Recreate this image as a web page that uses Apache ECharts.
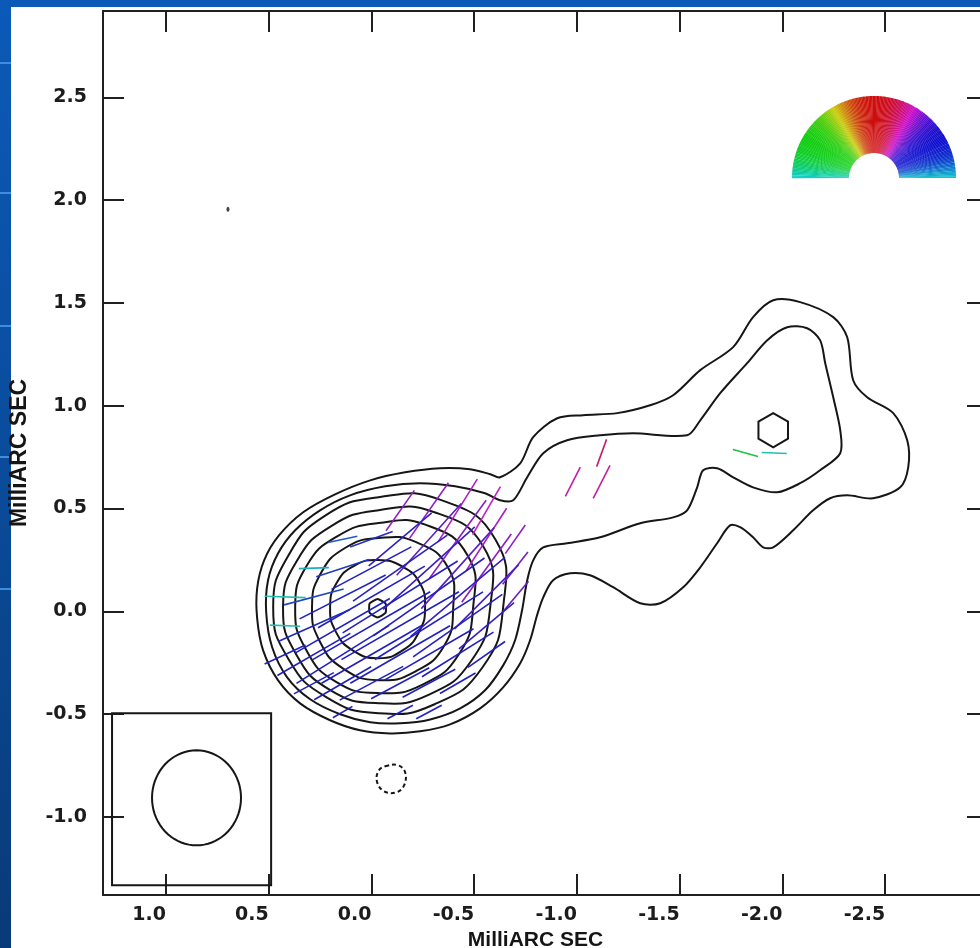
<!DOCTYPE html>
<html>
<head>
<meta charset="utf-8">
<script src="https://cdn.jsdelivr.net/npm/echarts@6/dist/echarts.min.js"></script>
<style>
html,body{margin:0;padding:0;width:980px;height:948px;overflow:hidden;}
body{position:relative;background:linear-gradient(180deg,#0b5ab8 0%,#0a4d9e 45%,#093a78 100%);}
#paper{position:absolute;left:11px;top:7px;width:969px;height:941px;background:#ffffff;}
#chart{position:absolute;left:0;top:0;width:980px;height:948px;}
.streak{position:absolute;left:0;width:11px;height:2px;background:#3d8ee2;}
</style>
</head>
<body>
<div class="streak" style="top:62px"></div>
<div class="streak" style="top:192px"></div>
<div class="streak" style="top:325px"></div>
<div class="streak" style="top:456px"></div>
<div class="streak" style="top:588px"></div>
<div id="paper"></div>
<div id="chart"></div>
<script>
// ---------------- axes ----------------
const xTickValues = [1.0, 0.5, 0.0, -0.5, -1.0, -1.5, -2.0, -2.5];
const yTickValues = [-1.0, -0.5, 0.0, 0.5, 1.0, 1.5, 2.0, 2.5];
const xRange = [-3.0, 1.306];   // relative RA (mas), drawn inverted
const yRange = [-1.38, 2.92];   // relative Dec (mas)
const axisTitle = 'MilliARC SEC';

// ---------------- total intensity contours (mas) ----------------
// lowest level: encloses core and jet
const contourLevel1 = [
  [-0.626,0.652],[-0.724,0.720],[-0.787,0.847],[-0.904,0.939],[-1.030,0.954],[-1.196,0.964],
  [-1.356,1.002],[-1.468,1.051],[-1.600,1.173],[-1.760,1.285],[-1.857,1.431],[-1.955,1.513],
  [-2.086,1.504],[-2.247,1.431],[-2.315,1.333],[-2.344,1.124],[-2.412,1.041],[-2.539,0.964],
  [-2.607,0.832],[-2.612,0.701],[-2.573,0.603],[-2.441,0.550],[-2.315,0.564],[-2.232,0.550],
  [-2.149,0.491],[-2.052,0.394],[-1.955,0.311],[-1.906,0.311],[-1.857,0.360],[-1.794,0.409],
  [-1.745,0.418],[-1.682,0.331],[-1.600,0.214],[-1.517,0.117],[-1.405,0.039],[-1.308,0.039],
  [-1.176,0.117],[-1.064,0.175],[-0.967,0.185],[-0.884,0.151],[-0.836,0.068],[-0.806,-0.019],
  [-0.772,-0.141],[-0.724,-0.253],[-0.641,-0.370],[-0.529,-0.472],[-0.383,-0.550],[-0.237,-0.584],
  [-0.091,-0.594],[0.055,-0.579],[0.201,-0.530],[0.347,-0.448],[0.454,-0.336],[0.527,-0.190],
  [0.556,-0.034],[0.556,0.112],[0.522,0.248],[0.449,0.370],[0.332,0.482],[0.177,0.569],
  [0.006,0.637],[-0.164,0.676],[-0.334,0.696],[-0.480,0.691],[-0.578,0.667]
];
// second level: core and jet
const contourLevel2 = [
  [-0.626,0.540],[-0.690,0.540],[-0.758,0.652],[-0.836,0.769],[-0.952,0.832],[-1.113,0.856],
  [-1.273,0.866],[-1.536,0.856],[-1.600,0.929],[-1.697,1.061],[-1.828,1.207],[-1.926,1.319],
  [-2.023,1.382],[-2.120,1.377],[-2.183,1.319],[-2.208,1.207],[-2.247,1.041],[-2.281,0.881],
  [-2.281,0.769],[-2.183,0.686],[-2.086,0.623],[-1.974,0.579],[-1.857,0.603],[-1.760,0.652],
  [-1.682,0.696],[-1.614,0.686],[-1.585,0.603],[-1.536,0.491],[-1.468,0.457],[-1.308,0.428],
  [-1.113,0.360],[-0.952,0.331],[-0.836,0.311],[-0.787,0.248],[-0.758,0.151],[-0.733,0.005],
  [-0.699,-0.141],[-0.641,-0.263],[-0.553,-0.384],[-0.432,-0.472],[-0.286,-0.526],[-0.140,-0.545],
  [0.006,-0.540],[0.152,-0.501],[0.298,-0.428],[0.410,-0.321],[0.483,-0.175],[0.512,-0.005],
  [0.503,0.151],[0.454,0.282],[0.371,0.394],[0.250,0.491],[0.104,0.564],[-0.067,0.608],
  [-0.237,0.623],[-0.407,0.608],[-0.553,0.574]
];
// closed core rings: radius (mas) at position angles 0,30,...,330 deg (screen, from +RA-offset direction)
const ringAngles = [0, 30, 60, 90, 120, 150, 180, 210, 240, 270, 300, 330];
const coreCentre = [-0.035, 0.02];
const ringLevel3 = [0.606,0.657,0.603,0.535,0.516,0.506,0.513,0.506,0.506,0.516,0.545,0.584];
const ringLevel4 = [0.543,0.589,0.535,0.472,0.457,0.457,0.465,0.462,0.467,0.467,0.491,0.521];
const ringLevel5 = [0.460,0.501,0.462,0.409,0.399,0.404,0.406,0.409,0.418,0.418,0.433,0.453];
const ringLevel6 = [0.363,0.389,0.365,0.336,0.331,0.326,0.324,0.331,0.345,0.355,0.360,0.370];
const ringLevel7 = [0.226,0.232,0.229,0.229,0.234,0.236,0.236,0.240,0.245,0.248,0.240,0.230];
// peak contours (hexagonal)
const coreKnot = { centre: [-0.03, 0.015], radius: 0.045 };
const jetKnot = { centre: [-1.955, 0.881], radius: 0.083 };
// negative (dashed) contour
const negativeContour = [
  [-0.067,-0.754],[-0.130,-0.749],[-0.164,-0.783],[-0.159,-0.847],
  [-0.120,-0.881],[-0.062,-0.876],[-0.028,-0.832],[-0.033,-0.779]
];
// isolated spot
const isolatedSpot = [0.698, 1.956];
// restoring beam and its box
const beamCentre = [0.851, -0.9075];
const beamSemiAxes = [0.2165, 0.231];
const beamBox = [[1.262,-0.496],[0.488,-0.496],[0.488,-1.333],[1.262,-1.333]];

// ---------------- polarisation sticks ----------------
const vecX = [
  -0.14,-0.28,-0.42,-0.56,
  0.14,0.00,-0.14,-0.28,-0.42,-0.56,-0.70,
  0.28,0.14,0.00,-0.14,-0.28,-0.42,-0.56,-0.70,
  0.42,0.28,0.14,0.00,-0.14,-0.28,-0.42,-0.56,-0.70,
  0.42,0.28,0.14,0.00,-0.14,-0.28,-0.42,-0.56,
  0.42,0.28,0.14,0.00,-0.14,-0.28,-0.42,-0.56,
  0.28,0.14,0.00,-0.14,-0.28,-0.42,
  0.14,-0.14,-0.28,
  -0.98,-1.12,-1.12,-1.82,-1.96
];
const vecY = [
  0.49,0.49,0.49,0.49,
  0.35,0.35,0.35,0.35,0.35,0.35,0.35,
  0.21,0.21,0.21,0.21,0.21,0.21,0.21,0.21,
  0.07,0.07,0.07,0.07,0.07,0.07,0.07,0.07,0.07,
  -0.07,-0.07,-0.07,-0.07,-0.07,-0.07,-0.07,-0.07,
  -0.21,-0.21,-0.21,-0.21,-0.21,-0.21,-0.21,-0.21,
  -0.35,-0.35,-0.35,-0.35,-0.35,-0.35,
  -0.49,-0.49,-0.49,
  0.63,0.63,0.77,0.77,0.77
];
const vecEVPA = [
  -35,-35,-32,-30,
  -78,-70,-50,-42,-36,-33,-35,
  92,-72,-62,-55,-48,-42,-36,-38,
  88,-75,-63,-60,-58,-55,-50,-45,-40,
  88,-66,-60,-60,-60,-58,-55,-50,
  -65,-60,-58,-60,-60,-60,-58,-55,
  -62,-60,-62,-62,-62,-60,
  -60,-62,-62,
  -27,-27,-20,74,88
];
const vecLen = [
  0.24,0.33,0.36,0.27,
  0.146,0.22,0.40,0.47,0.47,0.36,0.17,
  0.146,0.27,0.44,0.56,0.60,0.53,0.41,0.20,
  0.20,0.30,0.47,0.60,0.66,0.66,0.60,0.44,0.20,
  0.146,0.38,0.53,0.66,0.66,0.62,0.53,0.35,
  0.22,0.41,0.53,0.56,0.56,0.50,0.41,0.22,
  0.22,0.32,0.35,0.32,0.29,0.20,
  0.11,0.14,0.14,
  0.160,0.180,0.141,0.127,0.122
];

// ---------------- helpers ----------------
// EVPA -> hue (180 deg ambiguity, so hue = 2*EVPA), with bands pulled toward the primaries
function evpaColor(evpa, sat, light) {
  const h0 = (((2 * evpa) % 360) + 360) % 360;
  const h = (h0 - 15 * Math.sin(3 * h0 * Math.PI / 180) + 360) % 360;
  return 'hsl(' + h.toFixed(1) + ',' + sat + '%,' + light + '%)';
}
function ringToPoints(centre, radii, angles) {
  return radii.map((r, i) => {
    const a = angles[i] * Math.PI / 180;
    return [centre[0] - r * Math.cos(a), centre[1] + r * Math.sin(a)];
  });
}
function hexagon(knot) {
  const out = [];
  for (let k = 0; k < 6; k++) {
    const a = (90 + 60 * k) * Math.PI / 180;
    out.push([knot.centre[0] - knot.radius * Math.cos(a), knot.centre[1] + knot.radius * Math.sin(a)]);
  }
  return out;
}
function ellipsePts(c, s) {
  const out = [];
  for (let k = 0; k < 72; k++) {
    const a = k * 5 * Math.PI / 180;
    out.push([c[0] - s[0] * Math.cos(a), c[1] + s[1] * Math.sin(a)]);
  }
  return out;
}

const contourSets = [
  { pts: contourLevel1, smooth: 0.3 },
  { pts: contourLevel2, smooth: 0.3 },
  { pts: ringToPoints(coreCentre, ringLevel3, ringAngles), smooth: 0.5 },
  { pts: ringToPoints(coreCentre, ringLevel4, ringAngles), smooth: 0.5 },
  { pts: ringToPoints(coreCentre, ringLevel5, ringAngles), smooth: 0.5 },
  { pts: ringToPoints(coreCentre, ringLevel6, ringAngles), smooth: 0.5 },
  { pts: ringToPoints(coreCentre, ringLevel7, ringAngles), smooth: 0.5 },
  { pts: hexagon(coreKnot), smooth: 0.15 },
  { pts: hexagon(jetKnot), smooth: 0 },
  { pts: negativeContour, smooth: 0.4, dash: [4, 3] },
  { pts: ellipsePts(beamCentre, beamSemiAxes), smooth: 0 },
  { pts: beamBox, smooth: 0 }
];

// colour wheel key (EVPA -> colour), drawn as a fan of thin wedges
const wheelCx = 874, wheelCy = 178, wheelR0 = 25, wheelR = 82;
const wheel = [];
for (let t = 0; t < 180; t++) {
  const evpa = t + 0.5 - 90;
  wheel.push({
    type: 'sector', silent: true,
    shape: { cx: wheelCx, cy: wheelCy, r0: wheelR0, r: wheelR,
      startAngle: -(t + 1.15) * Math.PI / 180, endAngle: -t * Math.PI / 180 },
    style: { fill: evpaColor(evpa, 88, 43) }
  });
}

const tickFont = { fontFamily: 'DejaVu Sans', fontWeight: 'bold', fontSize: 19, color: '#1c1c1c' };
const axisLineStyle = { color: '#202020', width: 2 };

const chart = echarts.init(document.getElementById('chart'), null, { renderer: 'canvas' });
chart.setOption({
  backgroundColor: 'transparent',
  animation: false,
  grid: { left: 103, top: 11, width: 885, height: 884, containLabel: false, outerBoundsMode: 'none' },
  xAxis: [
    {
      type: 'value', position: 'bottom', inverse: true, min: xRange[0], max: xRange[1],
      axisLine: { show: true, onZero: false, lineStyle: axisLineStyle },
      axisTick: { show: true, inside: true, length: 21, lineStyle: axisLineStyle, customValues: xTickValues },
      axisLabel: Object.assign({ show: true, customValues: xTickValues, align: 'right', margin: 11,
        formatter: v => Number(v).toFixed(1) }, tickFont),
      splitLine: { show: false },
      name: axisTitle, nameLocation: 'middle', nameGap: 32,
      nameTextStyle: { fontFamily: 'Liberation Sans', fontWeight: 'bold', fontSize: 21, color: '#151515', padding: [0, 20, 0, 0] }
    },
    {
      type: 'value', position: 'top', inverse: true, min: xRange[0], max: xRange[1],
      axisLine: { show: true, onZero: false, lineStyle: axisLineStyle },
      axisTick: { show: true, inside: true, length: 21, lineStyle: axisLineStyle, customValues: xTickValues },
      axisLabel: { show: false }, splitLine: { show: false }
    }
  ],
  yAxis: [
    {
      type: 'value', position: 'left', min: yRange[0], max: yRange[1],
      axisLine: { show: true, onZero: false, lineStyle: axisLineStyle },
      axisTick: { show: true, inside: true, length: 21, lineStyle: axisLineStyle, customValues: yTickValues },
      axisLabel: Object.assign({ show: true, customValues: yTickValues, margin: 16,
        formatter: v => Number(v).toFixed(1) }, tickFont),
      splitLine: { show: false },
      name: axisTitle, nameLocation: 'middle', nameGap: 72, nameRotate: 90,
      nameTextStyle: { fontFamily: 'Liberation Sans', fontWeight: 'bold', fontSize: 23, color: '#151515' }
    },
    {
      type: 'value', position: 'right', min: yRange[0], max: yRange[1],
      axisLine: { show: true, onZero: false, lineStyle: axisLineStyle },
      axisTick: { show: true, inside: true, length: 21, lineStyle: axisLineStyle, customValues: yTickValues },
      axisLabel: { show: false }, splitLine: { show: false }
    }
  ],
  graphic: wheel,
  series: [
    {
      type: 'custom', name: 'contours', coordinateSystem: 'cartesian2d', xAxisIndex: 0, yAxisIndex: 0,
      silent: true, z: 3,
      data: contourSets.map(c => c.pts[0]),
      renderItem: function (params, api) {
        const c = contourSets[params.dataIndex];
        const pts = c.pts.map(p => api.coord(p));
        return {
          type: 'polygon',
          shape: { points: pts, smooth: c.smooth },
          style: { fill: 'none', stroke: '#161616', lineWidth: 2, lineDash: c.dash || null }
        };
      }
    },
    {
      type: 'custom', name: 'polarisation', coordinateSystem: 'cartesian2d', xAxisIndex: 0, yAxisIndex: 0,
      silent: true, z: 4,
      data: vecX.map((x, i) => [x, vecY[i], vecEVPA[i], vecLen[i]]),
      encode: { x: 0, y: 1 },
      renderItem: function (params, api) {
        const x = api.value(0), y = api.value(1), evpa = api.value(2), half = api.value(3) / 2;
        const a = evpa * Math.PI / 180;
        const p1 = api.coord([x + half * Math.sin(a), y + half * Math.cos(a)]);
        const p2 = api.coord([x - half * Math.sin(a), y - half * Math.cos(a)]);
        return {
          type: 'line',
          shape: { x1: p1[0], y1: p1[1], x2: p2[0], y2: p2[1] },
          style: { stroke: evpaColor(evpa, 72, 44), lineWidth: 1.6 }
        };
      }
    },
    {
      type: 'scatter', name: 'spot', xAxisIndex: 0, yAxisIndex: 0, silent: true,
      symbol: 'circle', symbolSize: [3, 5], itemStyle: { color: '#111' },
      data: [isolatedSpot]
    }
  ]
});
</script>
</body>
</html>
